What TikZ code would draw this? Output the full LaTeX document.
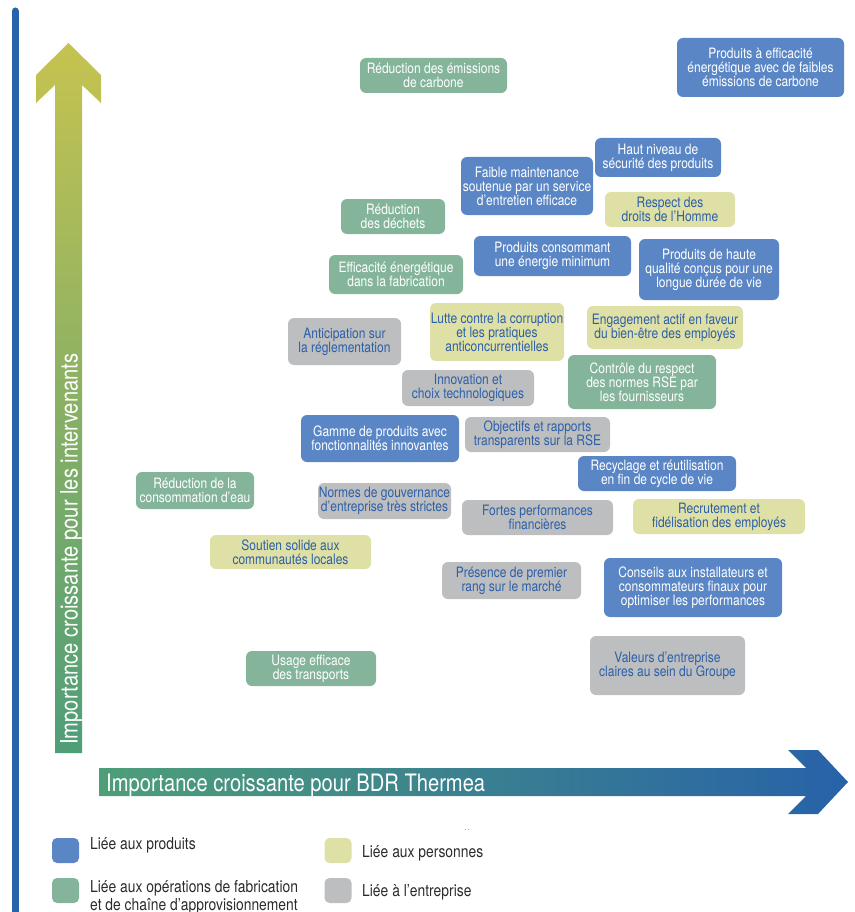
\documentclass[tikz,border=0pt]{standalone}
\usepackage{fontspec}
\setmainfont{TeX Gyre Heros}[FakeStretch=0.84]
\usetikzlibrary{positioning}
\definecolor{prodblue}{HTML}{5A86C6}
\definecolor{fabgreen}{HTML}{84B59A}
\definecolor{persyellow}{HTML}{DFE0A6}
\definecolor{entrgray}{HTML}{BDBEC0}
\definecolor{textblue}{HTML}{2C5FA8}
\definecolor{sideblue}{HTML}{2763A8}
\definecolor{arrowolive}{HTML}{C6C350}
\definecolor{arrowgreen}{HTML}{4E9E78}
\definecolor{arrowblue}{HTML}{2762A8}
\definecolor{legendgray}{HTML}{2B2B2B}
\tikzset{every node/.style={inner sep=0pt, align=center, font=\fontsize{14.3}{14}\selectfont},
  card/.style 2 args={rounded corners=6pt, minimum width=#1, minimum height=#2},
  prod/.style={fill=prodblue, text=white},
  fab/.style={fill=fabgreen, text=white},
  pers/.style={fill=persyellow, text=textblue},
  entr/.style={fill=entrgray, text=textblue},
  swatch/.style={rounded corners=5pt, minimum width=27, minimum height=25},
  legtext/.style={anchor=west, align=left, text=legendgray, font=\fontsize{16.5}{18}\selectfont},
  axislabel/.style={anchor=base west, text=white, font=\fontsize{24}{24}\selectfont}}

\begin{document}
\begin{tikzpicture}[x=1pt,y=-1pt]
  \useasboundingbox (0,0) rectangle (854,912);
  \draw[sideblue, line width=7pt, line cap=round] (15,11) -- (15,916);
  \shade[top color=arrowolive, bottom color=arrowgreen]
    (55,753) -- (55,85) -- (36,103) -- (36,75) -- (68.5,43) -- (101,75) -- (101,103) -- (82,85) -- (82,753) -- cycle;
  \shade[left color=arrowgreen, right color=arrowblue]
    (99,768) -- (806,768) -- (788,750) -- (818,750) -- (848,782) -- (818,814) -- (788,814) -- (806,796) -- (99,796) -- cycle;
  \node[axislabel, rotate=90] (ylab) at (77.5,745) {Importance croissante pour les intervenants};
  \node[axislabel] (xlab) at (106,791) {Importance croissante pour BDR Thermea};

  \node[fab, card={147}{35}] (carbone) at (433.5,75.5) {Réduction des émissions\\de carbone};
  \node[prod, card={167}{59}] (faibles) at (760.5,67.5) {Produits à efficacité\\énergétique avec de faibles\\émissions de carbone};
  \node[prod, card={126}{39}] (securite) at (658,157.5) {Haut niveau de\\sécurité des produits};
  \node[prod, card={132}{58}] (maintenance) at (527,186) {Faible maintenance\\soutenue par un service\\d’entretien efficace};
  \node[pers, card={130}{35}] (droits) at (670,209.5) {Respect des\\droits de l’Homme};
  \node[fab, card={104}{35}] (dechets) at (393,216.5) {Réduction\\des déchets};
  \node[prod, card={157}{40}] (energie) at (552.5,256) {Produits consommant\\une énergie minimum};
  \node[prod, card={140}{61}] (qualite) at (709,269.5) {Produits de haute\\qualité conçus pour une\\longue durée de vie};
  \node[fab, card={134}{39}] (fabrication) at (396,274.5) {Efficacité énergétique\\dans la fabrication};
  \node[entr, card={113}{47}] (reglement) at (344.5,341.5) {Anticipation sur\\la réglementation};
  \node[pers, card={134}{58}] (corruption) at (497,332) {Lutte contre la corruption\\et les pratiques\\anticoncurrentielles};
  \node[pers, card={156}{43}] (engagement) at (665,327.5) {Engagement actif en faveur\\du bien-être des employés};
  \node[entr, card={132}{36}] (innovation) at (468,388) {Innovation et\\choix technologiques};
  \node[fab, card={148}{54}] (controle) at (642,382) {Contrôle du respect\\des normes RSE par\\les fournisseurs};
  \node[prod, card={158}{47}] (gamme) at (380,438.5) {Gamme de produits avec\\fonctionnalités innovantes};
  \node[entr, card={145}{35}] (objectifs) at (537.5,434.5) {Objectifs et rapports\\transparents sur la RSE};
  \node[prod, card={158}{35}] (recyclage) at (657,473.5) {Recyclage et réutilisation\\en fin de cycle de vie};
  \node[fab, card={118}{37}] (eau) at (195,490.5) {Réduction de la\\consommation d’eau};
  \node[entr, card={133}{36}] (gouvernance) at (384.5,501) {Normes de gouvernance\\d’entreprise très strictes};
  \node[entr, card={151}{35}] (finance) at (537.5,517.5) {Fortes performances\\financières};
  \node[pers, card={172}{35}] (recrutement) at (719,516.5) {Recrutement et\\fidélisation des employés};
  \node[pers, card={161}{34}] (locales) at (290.5,552) {Soutien solide aux\\communautés locales};
  \node[entr, card={139}{37}] (marche) at (511.5,580.5) {Présence de premier\\rang sur le marché};
  \node[prod, card={178}{59}] (conseils) at (693,587.5) {Conseils aux installateurs et\\consommateurs finaux pour\\optimiser les performances};
  \node[fab, card={130}{35}] (transports) at (311,668.5) {Usage efficace\\des transports};
  \node[entr, card={155}{59}] (valeurs) at (667.5,665.5) {Valeurs d’entreprise\\claires au sein du Groupe};

  \begin{scope}
   \node[swatch, fill=prodblue] (sprod) at (65.5,850.5) {};
   \node[swatch, fill=fabgreen] (sfab) at (65.5,890.5) {};
   \node[swatch, fill=persyellow] (spers) at (338,850.5) {};
   \node[swatch, fill=entrgray] (sentr) at (338,890.5) {};
   \node[legtext] (lprod) at (90,845) {Liée aux produits};
   \node[legtext] (lfab) at (90,897) {Liée aux opérations de fabrication\\et de chaîne d’approvisionnement};
   \node[legtext] (lpers) at (362,853) {Liée aux personnes};
   \node[legtext] (lentr) at (362,892) {Liée à l’entreprise};
   \node[text=black!70, font=\fontsize{8}{8}\selectfont] (dots) at (467,830) {.\,.};
  \end{scope}
\end{tikzpicture}
\end{document}
